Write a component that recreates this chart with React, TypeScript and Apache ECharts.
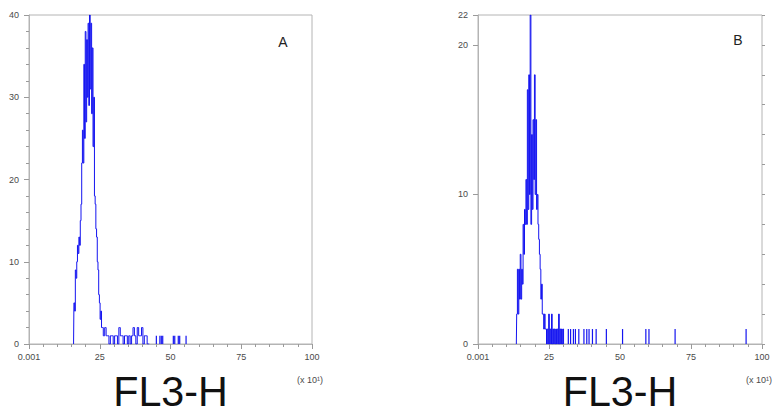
import React, { useEffect, useRef } from 'react';
import * as echarts from 'echarts';

// ---- Data ----
const X_TICK_LABELS = ['0.001', '25', '50', '75', '100'];
const X_UNIT_LABEL = '(x 10\u00b9)';
const AXIS_TITLE = 'FL3-H';
const PANEL_LABELS = ['A', 'B'];

// Panel A histogram (FL3-H channel, count)
const A_X = [
  15.75, 16, 16.25, 16.5, 16.75, 17, 17.25, 17.5, 17.75, 18, 18.25, 18.5, 18.75,
  19, 19.25, 19.5, 19.75, 20, 20.25, 20.5, 20.75, 21, 21.25, 21.5, 21.75, 22,
  22.25, 22.5, 22.75, 23, 23.25, 23.5, 23.75, 24, 24.25, 24.5, 24.75, 25, 25.25,
  25.5, 25.75, 26, 26.5, 27, 27.5, 28, 28.5, 29, 29.5, 30, 30.5, 31, 31.5, 32,
  32.5, 33, 33.5, 34, 34.5, 35, 35.5, 36, 36.5, 37, 37.5, 38, 38.5, 39, 39.5, 40,
  40.5, 41, 41.5, 42, 42.5,
];
const A_Y = [
  0, 5, 4, 9, 8, 10, 12, 11, 13, 12, 15, 17, 22,
  26, 22, 34, 25, 38, 27, 37, 30, 39, 29, 40, 31, 39,
  28, 36, 24, 30, 18, 17, 14, 13, 10, 9, 6, 5, 3,
  4, 2, 2, 1, 2, 1, 1, 0, 1, 1, 0, 1, 1, 0, 2,
  1, 1, 0, 1, 1, 0, 1, 0, 1, 2, 1, 0, 2, 1, 1, 2,
  0, 1, 1, 0, 0,
];
const A_BLIP_X = [45, 46.25, 46.75, 47.25, 51, 51.5, 52.75, 53.25, 55.5];
const A_BLIP_Y = [1, 1, 1, 1, 1, 1, 1, 1, 1];

// Panel B histogram
const B_X = [
  13.5, 13.75, 14, 14.25, 14.5, 14.75, 15, 15.25, 15.5, 15.75, 16, 16.25, 16.5,
  16.75, 17, 17.25, 17.5, 17.75, 18, 18.25, 18.5, 18.75, 19, 19.25, 19.5, 19.75,
  20, 20.25, 20.5, 20.75, 21, 21.25, 21.5, 21.75, 22, 22.25, 22.5, 22.75, 23,
  23.25, 23.5, 23.75, 24, 24.25, 24.5, 24.75, 25, 25.25, 25.5, 25.75, 26, 26.25,
  26.5, 26.75, 27, 27.25, 27.5, 27.75, 28, 28.25, 28.5, 28.75, 29, 29.25, 29.5,
  29.75, 30, 30.25,
];
const B_Y = [
  0, 2, 5, 2, 5, 3, 6, 3, 5, 4, 8, 6, 9,
  8, 11, 8, 17, 9, 18, 10, 22, 8, 14, 9, 15, 11,
  18, 10, 15, 9, 10, 8, 7, 6, 5, 3, 4, 2, 2,
  1, 2, 1, 1, 0, 1, 0, 2, 0, 1, 0, 2, 0,
  1, 0, 1, 0, 1, 0, 1, 0, 2, 0, 1, 0, 1,
  0, 1, 0,
];
const B_BLIP_X = [31.8, 32.6, 33.6, 34.3, 35.5, 37.3, 38.3, 39.1, 40.3, 41.6, 45.2, 50.9, 59.1, 60.2, 69.4, 94.4];
const B_BLIP_Y = [1, 1, 1, 1, 1, 1, 1, 1, 1, 1, 1, 1, 1, 1, 1, 1];

const BLUE = '#1414f0';
const AXIS_GRAY = '#b4b4b4';
const TICK_GRAY = '#9a9a9a';
const LABEL_GRAY = '#4a4a4a';
const FONT = 'Liberation Sans, Arial, sans-serif';

const pairs = (xs: number[], ys: number[]) => xs.map((x, i) => [x, ys[i]]);

const xAxisFor = (gridIndex: number) => ({
  type: 'value',
  gridIndex,
  min: 0,
  max: 100,
  interval: 25,
  axisLine: { show: true, lineStyle: { color: AXIS_GRAY, width: 1 } },
  axisTick: { show: true, length: 5, lineStyle: { color: TICK_GRAY } },
  minorTick: { show: true, splitNumber: 5, length: 3, lineStyle: { color: TICK_GRAY } },
  splitLine: { show: false },
  axisLabel: {
    fontSize: 9,
    color: LABEL_GRAY,
    fontFamily: FONT,
    margin: 8,
    formatter: (v: number) => X_TICK_LABELS[Math.round(v / 25)] ?? '',
  },
});

export default function App() {
  const ref = useRef<HTMLDivElement>(null);

  useEffect(() => {
    if (!ref.current) return;
    const chart = echarts.init(ref.current, undefined, { renderer: 'svg' });
    const option: any = {
      animation: false,
      backgroundColor: '#ffffff',
      grid: [
        { left: 29, top: 15, width: 283, height: 329, show: true, borderColor: AXIS_GRAY, borderWidth: 1 },
        { left: 478, top: 15, width: 284, height: 329, show: true, borderColor: AXIS_GRAY, borderWidth: 1 },
      ],
      xAxis: [xAxisFor(0), xAxisFor(1)],
      yAxis: [
        {
          type: 'value', gridIndex: 0, min: 0, max: 40, interval: 10,
          axisLine: { show: true, lineStyle: { color: AXIS_GRAY } },
          axisTick: { show: true, length: 5, lineStyle: { color: TICK_GRAY } },
          minorTick: { show: true, splitNumber: 5, length: 3, lineStyle: { color: TICK_GRAY } },
          splitLine: { show: false },
          axisLabel: { fontSize: 9, color: LABEL_GRAY, fontFamily: FONT, margin: 10 },
        },
        {
          type: 'value', gridIndex: 1, min: 0, max: 22, interval: 10,
          axisLine: { show: true, lineStyle: { color: AXIS_GRAY } },
          axisTick: { show: true, length: 5, lineStyle: { color: TICK_GRAY } },
          splitLine: { show: false },
          axisLabel: { fontSize: 9, color: LABEL_GRAY, fontFamily: FONT, margin: 10 },
        },
        {
          type: 'value', gridIndex: 1, min: 0, max: 22, interval: 2,
          axisLine: { show: false },
          axisTick: { show: true, length: 3, lineStyle: { color: TICK_GRAY } },
          splitLine: { show: false },
          axisLabel: { show: false },
        },
      ],
      series: [
        {
          type: 'line', xAxisIndex: 0, yAxisIndex: 0, step: 'middle',
          showSymbol: false, data: pairs(A_X, A_Y),
          lineStyle: { color: BLUE, width: 1 }, itemStyle: { color: BLUE },
        },
        {
          type: 'bar', xAxisIndex: 0, yAxisIndex: 0, barWidth: 1.2,
          data: pairs(A_BLIP_X, A_BLIP_Y), itemStyle: { color: BLUE },
        },
        {
          type: 'line', xAxisIndex: 1, yAxisIndex: 1, step: 'middle',
          showSymbol: false, data: pairs(B_X, B_Y),
          lineStyle: { color: BLUE, width: 1 }, itemStyle: { color: BLUE },
        },
        {
          type: 'bar', xAxisIndex: 1, yAxisIndex: 1, barWidth: 1.2,
          data: pairs(B_BLIP_X, B_BLIP_Y), itemStyle: { color: BLUE },
        },
      ],
      graphic: [
        { type: 'text', x: 283, y: 42, style: { text: PANEL_LABELS[0], fontSize: 14, fontFamily: FONT, fill: '#222', align: 'center', verticalAlign: 'middle' } },
        { type: 'text', x: 738, y: 40, style: { text: PANEL_LABELS[1], fontSize: 14, fontFamily: FONT, fill: '#222', align: 'center', verticalAlign: 'middle' } },
        { type: 'text', x: 170.5, y: 391, scaleX: 0.96, style: { text: AXIS_TITLE, fontSize: 43, fontFamily: FONT, fill: '#111', align: 'center', verticalAlign: 'middle' } },
        { type: 'text', x: 620, y: 391, scaleX: 0.96, style: { text: AXIS_TITLE, fontSize: 43, fontFamily: FONT, fill: '#111', align: 'center', verticalAlign: 'middle' } },
        { type: 'text', x: 310, y: 380, style: { text: X_UNIT_LABEL, fontSize: 9, fontFamily: FONT, fill: LABEL_GRAY, align: 'center', verticalAlign: 'middle' } },
        { type: 'text', x: 759, y: 380, style: { text: X_UNIT_LABEL, fontSize: 9, fontFamily: FONT, fill: LABEL_GRAY, align: 'center', verticalAlign: 'middle' } },
      ],
    };
    chart.setOption(option);
    return () => chart.dispose();
  }, []);

  return (
    <div
      ref={ref}
      style={{ position: 'fixed', left: 0, top: 0, width: 774, height: 416, background: '#fff' }}
    />
  );
}
